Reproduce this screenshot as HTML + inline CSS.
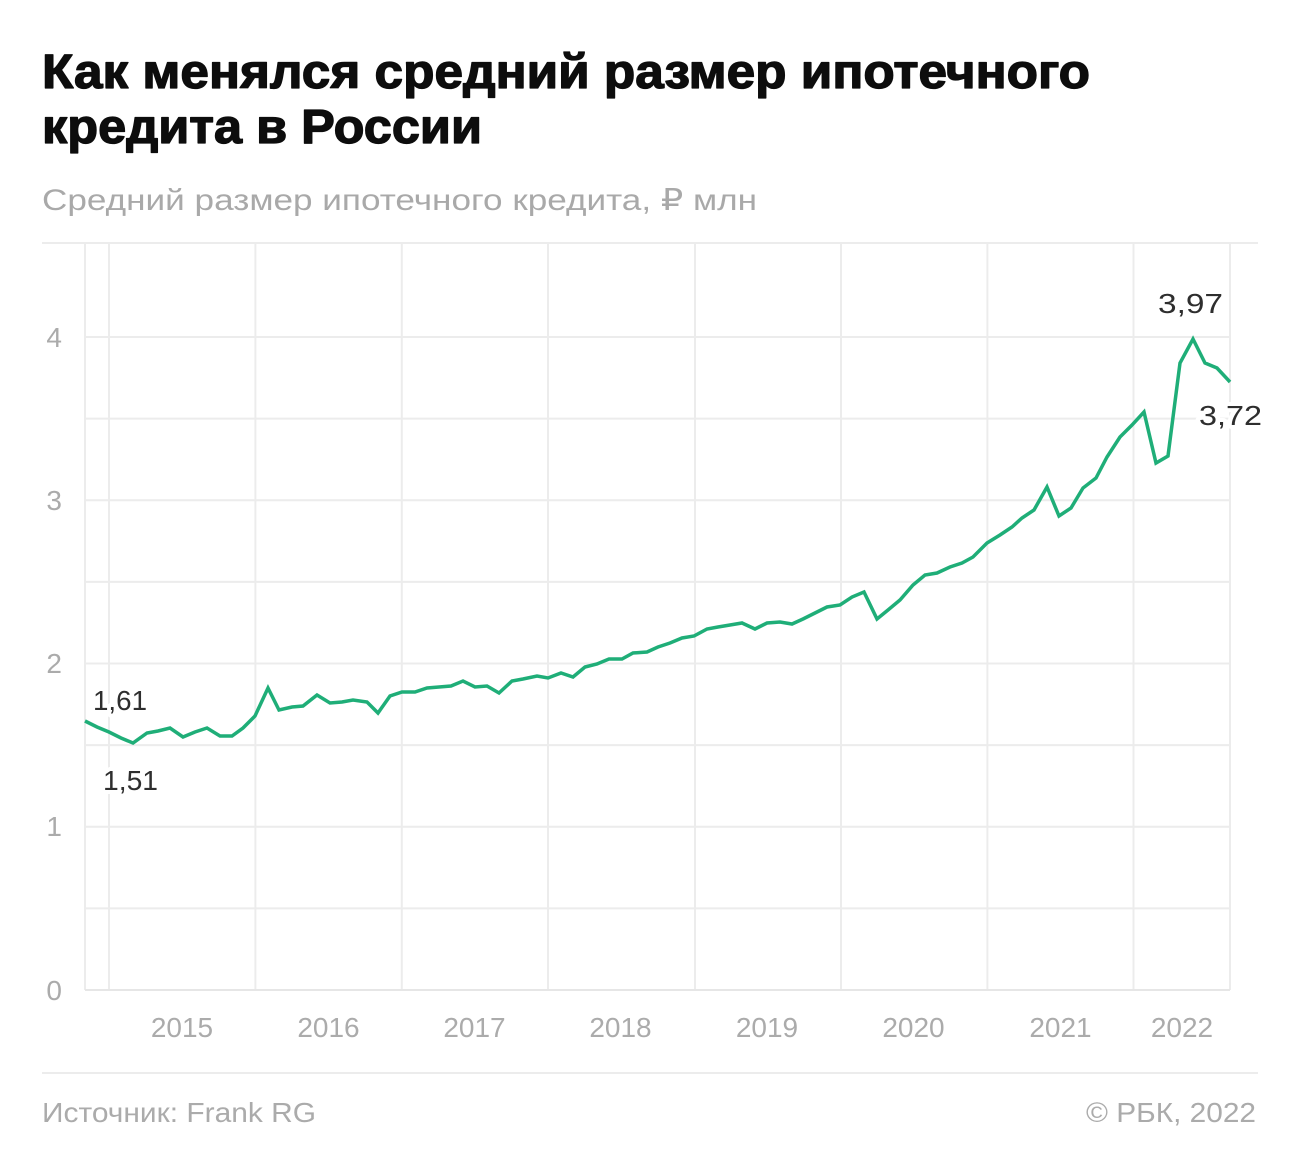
<!DOCTYPE html>
<html>
<head>
<meta charset="utf-8">
<style>
  html, body { margin: 0; padding: 0; background: #ffffff; }
  body { width: 1300px; height: 1174px; overflow: hidden; }
  svg { display: block; }
  .t { font-family: "Liberation Sans", "DejaVu Sans", sans-serif; }
</style>
</head>
<body>
<svg width="1300" height="1174" viewBox="0 0 1300 1174" xmlns="http://www.w3.org/2000/svg">
  <rect x="0" y="0" width="1300" height="1174" fill="#ffffff"/>

  <!-- Title -->
  <g stroke="#0d0d0d" stroke-width="1.3" stroke-linejoin="round">
  <text class="t" x="42" y="88" font-size="48" font-weight="bold" fill="#0d0d0d" textLength="1048" lengthAdjust="spacingAndGlyphs">Как менялся средний размер ипотечного</text>
  <text class="t" x="42" y="143" font-size="48" font-weight="bold" fill="#0d0d0d" textLength="440" lengthAdjust="spacingAndGlyphs">кредита в России</text>
  </g>

  <!-- Subtitle -->
  <text class="t" x="42" y="210" font-size="30" fill="#a9a9a9" textLength="715" lengthAdjust="spacingAndGlyphs">Средний размер ипотечного кредита, ₽ млн</text>

  <!-- Top separator -->
  <line x1="42" y1="243" x2="1258" y2="243" stroke="#ececec" stroke-width="2"/>

  <!-- Horizontal gridlines -->
  <g stroke="#ececec" stroke-width="2">
    <line x1="85" y1="908.4" x2="1230" y2="908.4"/>
    <line x1="85" y1="826.7" x2="1230" y2="826.7"/>
    <line x1="85" y1="745.1" x2="1230" y2="745.1"/>
    <line x1="85" y1="663.5" x2="1230" y2="663.5"/>
    <line x1="85" y1="581.9" x2="1230" y2="581.9"/>
    <line x1="85" y1="500.2" x2="1230" y2="500.2"/>
    <line x1="85" y1="418.6" x2="1230" y2="418.6"/>
    <line x1="85" y1="337" x2="1230" y2="337"/>
  </g>

  <!-- Vertical gridlines -->
  <g stroke="#ececec" stroke-width="2">
    <line x1="85" y1="243" x2="85" y2="990"/>
    <line x1="109" y1="243" x2="109" y2="990"/>
    <line x1="255.4" y1="243" x2="255.4" y2="990"/>
    <line x1="401.8" y1="243" x2="401.8" y2="990"/>
    <line x1="548" y1="243" x2="548" y2="990"/>
    <line x1="695" y1="243" x2="695" y2="990"/>
    <line x1="841" y1="243" x2="841" y2="990"/>
    <line x1="987.4" y1="243" x2="987.4" y2="990"/>
    <line x1="1133.5" y1="243" x2="1133.5" y2="990"/>
    <line x1="1230" y1="243" x2="1230" y2="990"/>
  </g>
  <!-- Zero baseline -->
  <line x1="85" y1="990" x2="1230" y2="990" stroke="#e6e6e6" stroke-width="2"/>

  <!-- Y axis labels -->
  <g class="t" font-size="28" fill="#ababab" text-anchor="end">
    <text x="62" y="347">4</text>
    <text x="62" y="510">3</text>
    <text x="62" y="673">2</text>
    <text x="62" y="836">1</text>
    <text x="62" y="1000">0</text>
  </g>

  <!-- X axis labels -->
  <g class="t" font-size="28" fill="#ababab" text-anchor="middle">
    <text x="182" y="1037">2015</text>
    <text x="328.5" y="1037">2016</text>
    <text x="474.5" y="1037">2017</text>
    <text x="620.5" y="1037">2018</text>
    <text x="767" y="1037">2019</text>
    <text x="913.5" y="1037">2020</text>
    <text x="1060.5" y="1037">2021</text>
    <text x="1182" y="1037">2022</text>
  </g>

  <!-- Data line -->
  <polyline fill="none" stroke="#1fae78" stroke-width="3.5" stroke-linejoin="miter" stroke-linecap="butt"
    points="85,721 97,727 109,732 121,738 133,743 147,733 158,731 170,728 183,737 195,732 207,728 220,736 232,736 243,728 255,716 268,688 279,710 292,707 303,706 317,695 330,703 342,702 353,700 367,702 378,713 390,696 402,692 415,692 427,688 439,687 451,686 463,681 475,687 487,686 499,693 512,681 523,679 537,676 548,678 561,673 573,677 585,667 597,664 609,659 622,659 633,653 647,652 658,647 670,643 682,638 694,636 707,629 718,627 730,625 742,623 755,629 767,623 780,622 792,624 803,619 815,613 827,607 840,605 852,597 864,592 877,619 888,610 900,600 913,585 925,575 937,573 950,567 962,563 973,557 987,543 1000,535 1012,527 1022,518 1034,510 1047,487 1059,516 1071,508 1083,488 1096,478 1107,457 1120,437 1132,425 1144,412 1156,463 1168,456 1180,363 1193,339 1205,363 1217,368 1230,382"/>

  <!-- Value labels with white halo -->
  <g class="t" font-size="28" fill="#2e2e2e" stroke="#ffffff" stroke-width="8" stroke-linejoin="round" paint-order="stroke">
    <text x="93" y="710" textLength="54" lengthAdjust="spacingAndGlyphs">1,61</text>
    <text x="103" y="790" textLength="55" lengthAdjust="spacingAndGlyphs">1,51</text>
    <text x="1158" y="313" textLength="65" lengthAdjust="spacingAndGlyphs">3,97</text>
    <text x="1199" y="425" textLength="63" lengthAdjust="spacingAndGlyphs">3,72</text>
  </g>

  <!-- Footer separator -->
  <line x1="42" y1="1073" x2="1258" y2="1073" stroke="#ececec" stroke-width="2"/>

  <!-- Footer -->
  <text class="t" x="42" y="1122" font-size="28" fill="#ababab" textLength="274" lengthAdjust="spacingAndGlyphs">Источник: Frank RG</text>
  <text class="t" x="1256" y="1122" font-size="28" fill="#ababab" text-anchor="end" textLength="170" lengthAdjust="spacingAndGlyphs">© РБК, 2022</text>
</svg>
</body>
</html>
